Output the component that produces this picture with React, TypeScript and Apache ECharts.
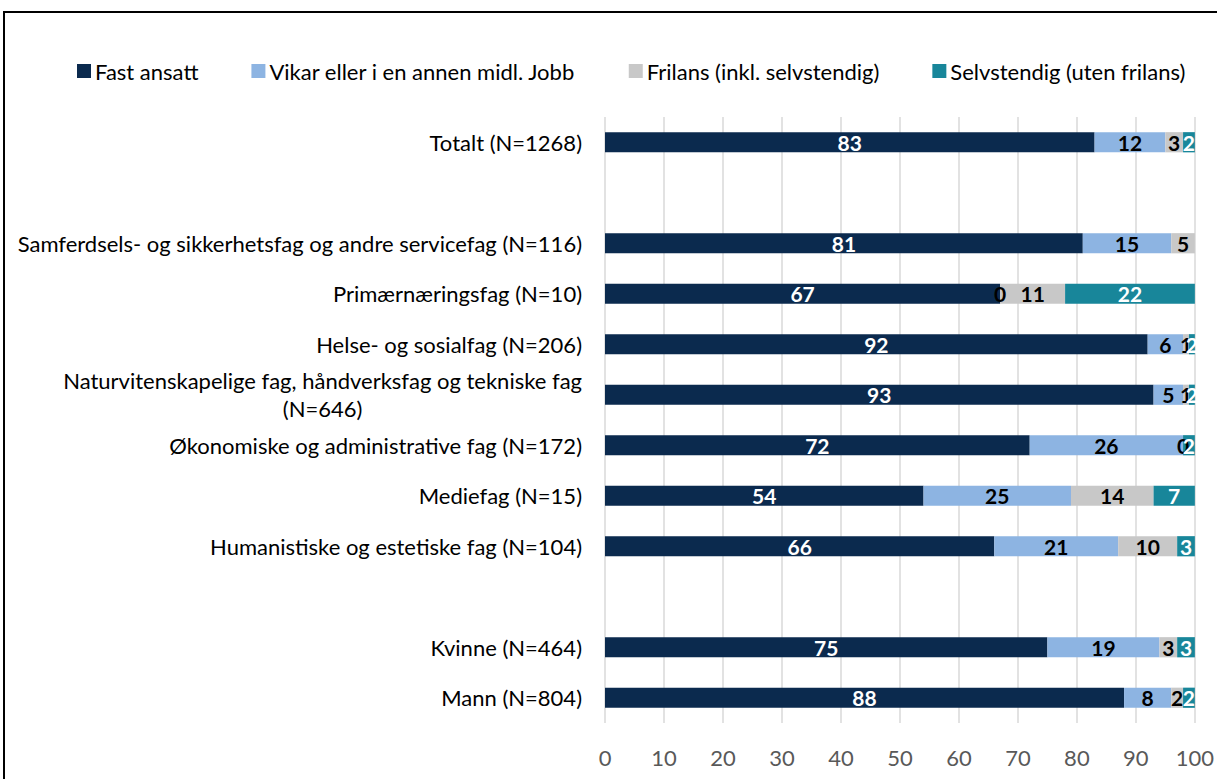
import React, { useEffect, useRef } from "react";
import * as echarts from "echarts";

const categories: string[] = [
  "Totalt (N=1268)",
  "",
  "Samferdsels- og sikkerhetsfag og andre servicefag (N=116)",
  "Primærnæringsfag (N=10)",
  "Helse- og sosialfag (N=206)",
  "Naturvitenskapelige fag, håndverksfag og tekniske fag\n(N=646)",
  "Økonomiske og administrative fag (N=172)",
  "Mediefag (N=15)",
  "Humanistiske og estetiske fag (N=104)",
  " ",
  "Kvinne (N=464)",
  "Mann (N=804)",
];

const seriesNames = [
  "Fast ansatt",
  "Vikar eller i en annen midl. Jobb",
  "Frilans (inkl. selvstendig)",
  "Selvstendig (uten frilans)",
];

const fastAnsatt = [83, null, 81, 67, 92, 93, 72, 54, 66, null, 75, 88];
const vikar = [12, null, 15, 0, 6, 5, 26, 25, 21, null, 19, 8];
const frilans = [3, null, 5, 11, 1, 1, 0, 14, 10, null, 3, 2];
const selvstendig = [2, null, null, 22, 2, 2, 2, 7, 3, null, 3, 2];

const xTicks = [0, 100, 10];

const colors = ["#0b2a4e", "#8db4e2", "#c8c8c8", "#18869a"];
const labelColors = ["#ffffff", "#000000", "#000000", "#ffffff"];

const FONT = "Lato";

export default function App() {
  const ref = useRef<HTMLDivElement>(null);
  useEffect(() => {
    document.body.style.margin = "0";
    const chart = echarts.init(ref.current!, undefined, { renderer: "svg" });
    const dataSets = [fastAnsatt, vikar, frilans, selvstendig];
    chart.setOption({
      animation: false,
      textStyle: { fontFamily: FONT },
      legend: {
        top: 55,
        left: 72,
        itemWidth: 14,
        itemHeight: 14,
        itemGap: 53,
        icon: "rect",
        textStyle: { fontFamily: FONT, fontSize: 22, color: "#000", padding: [0, 0, 0, -1] },
        data: seriesNames,
      },
      grid: { left: 605, right: 22, top: 117, bottom: 56, containLabel: false },
      xAxis: {
        type: "value",
        min: xTicks[0],
        max: xTicks[1],
        interval: xTicks[2],
        axisLine: { show: false },
        axisTick: { show: false },
        splitLine: { lineStyle: { color: "#d9d9d9", width: 1.5 } },
        axisLabel: { color: "#595959", fontSize: 22, fontFamily: FONT, margin: 23 },
      },
      yAxis: {
        type: "category",
        inverse: true,
        data: categories,
        axisLine: { show: false },
        axisTick: { show: false },
        axisLabel: {
          margin: 23,
          formatter: (v: string) =>
            v
              .split("\n")
              .map((l) => "{c|" + l + "}")
              .join("\n"),
          rich: {
            c: {
              fontFamily: FONT,
              fontSize: 22,
              color: "#000",
              align: "center",
              lineHeight: 28,
            },
          },
        },
      },
      series: dataSets.map((d, i) => ({
        name: seriesNames[i],
        type: "bar",
        stack: "total",
        data: d,
        barCategoryGap: "60%",
        itemStyle: { color: colors[i] },
        label: {
          show: true,
          position: "inside",
          color: labelColors[i],
          fontFamily: FONT,
          fontWeight: "bold",
          fontSize: 21,
        },
      })),
      graphic: [
        {
          type: "rect",
          shape: { x: 4, y: 12, width: 1400, height: 1000 },
          style: { fill: "none", stroke: "#000", lineWidth: 2 },
          silent: true,
        },
      ],
    });
    return () => chart.dispose();
  }, []);
  return <div ref={ref} style={{ width: 1217, height: 779 }} />;
}
